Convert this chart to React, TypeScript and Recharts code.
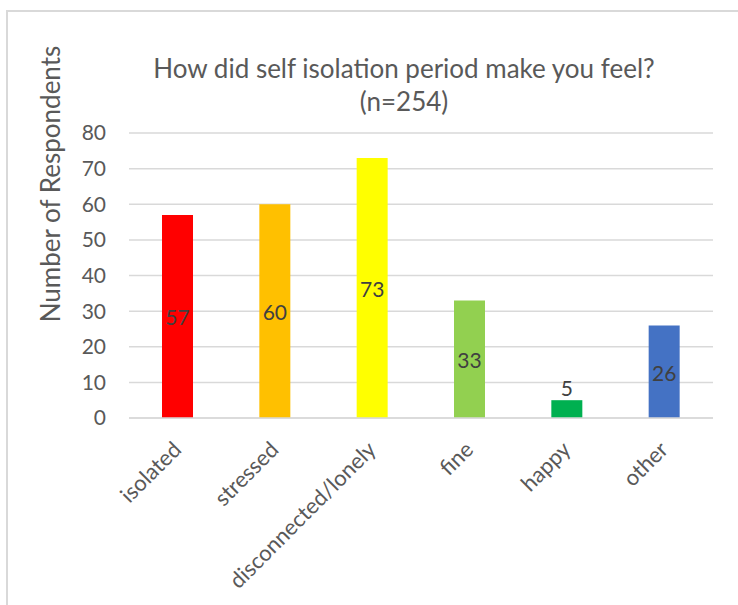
import React from 'react';
import { BarChart, Bar, XAxis, YAxis, CartesianGrid, Cell, LabelList } from 'recharts';

// survey answers
const feelings = ['isolated', 'stressed', 'disconnected/lonely', 'fine', 'happy', 'other'];
const respondents = [57, 60, 73, 33, 5, 26];
const barColors = ['#FF0000', '#FFC000', '#FFFF00', '#92D050', '#00B050', '#4472C4'];
const yTicks = [0, 10, 20, 30, 40, 50, 60, 70, 80];

const chartData = feelings.map((f, i) => ({ feeling: f, count: respondents[i] }));

const FONT = 'Lato, sans-serif';

const AngledTick = (props: any) => {
  const { x, y, payload } = props;
  const ax = x + 5;
  const ay = y + 25;
  return (
    <text
      x={ax}
      y={ay}
      textAnchor="end"
      fill="#595959"
      fontSize={22}
      fontFamily={FONT}
      transform={`rotate(-45, ${ax}, ${ay})`}
    >
      {payload.value}
    </text>
  );
};

// centre the value inside the bar, or sit it on top when the bar is too short
const ValueLabel = (props: any) => {
  const { x, y, width, height, value } = props;
  const cx = x + width / 2;
  const small = height < 30;
  const ty = small ? y - 4 : y + height / 2 + 9;
  return (
    <text x={cx} y={ty} textAnchor="middle" fill="#404040" fontSize={21} fontFamily={FONT}>
      {value}
    </text>
  );
};

export default function App() {
  return (
    <div style={{ position: 'relative', width: 738, height: 605, background: '#fff', overflow: 'hidden' }}>
      <style>{'body { margin: 0; }'}</style>
      <div style={{ position: 'absolute', left: 0, top: 0 }}>
        <BarChart width={738} height={605} data={chartData} margin={{ top: 133, right: 25, bottom: 0, left: 0 }}>
          <CartesianGrid vertical={false} stroke="#d9d9d9" strokeWidth={1.5} />
          <XAxis
            dataKey="feeling"
            axisLine={{ stroke: '#d9d9d9', strokeWidth: 1.5 }}
            tickLine={false}
            interval={0}
            height={187}
            tick={<AngledTick />}
          />
          <YAxis
            width={129}
            domain={[0, 80]}
            ticks={yTicks}
            axisLine={false}
            tickLine={false}
            tickMargin={17}
            tick={{ fill: '#595959', fontSize: 21, fontFamily: FONT }}
          />
          <Bar dataKey="count" barSize={31} isAnimationActive={false}>
            {chartData.map((d, i) => (
              <Cell key={d.feeling} fill={barColors[i]} />
            ))}
            <LabelList dataKey="count" content={<ValueLabel />} />
          </Bar>
        </BarChart>
      </div>
      <div style={{ position: 'absolute', left: 6, top: 10, width: 2, height: 600, background: '#d9d9d9' }} />
      <div style={{ position: 'absolute', left: 6, top: 10, width: 740, height: 2, background: '#d9d9d9' }} />
      <div
        style={{
          position: 'absolute', left: 0, width: 808, top: 52, textAlign: 'center',
          fontFamily: FONT, fontSize: 26, color: '#595959', lineHeight: '33px',
        }}
      >
        How did self isolation period make you feel?
        <br />
        (n=254)
      </div>
      <div style={{ position: 'absolute', left: 50, top: 184, width: 0, height: 0 }}>
        <div
          style={{
            position: 'absolute', transform: 'translate(-50%, -50%) rotate(-90deg)', whiteSpace: 'nowrap',
            fontFamily: FONT, fontSize: 26, color: '#595959',
          }}
        >
          Number of Respondents
        </div>
      </div>
    </div>
  );
}
